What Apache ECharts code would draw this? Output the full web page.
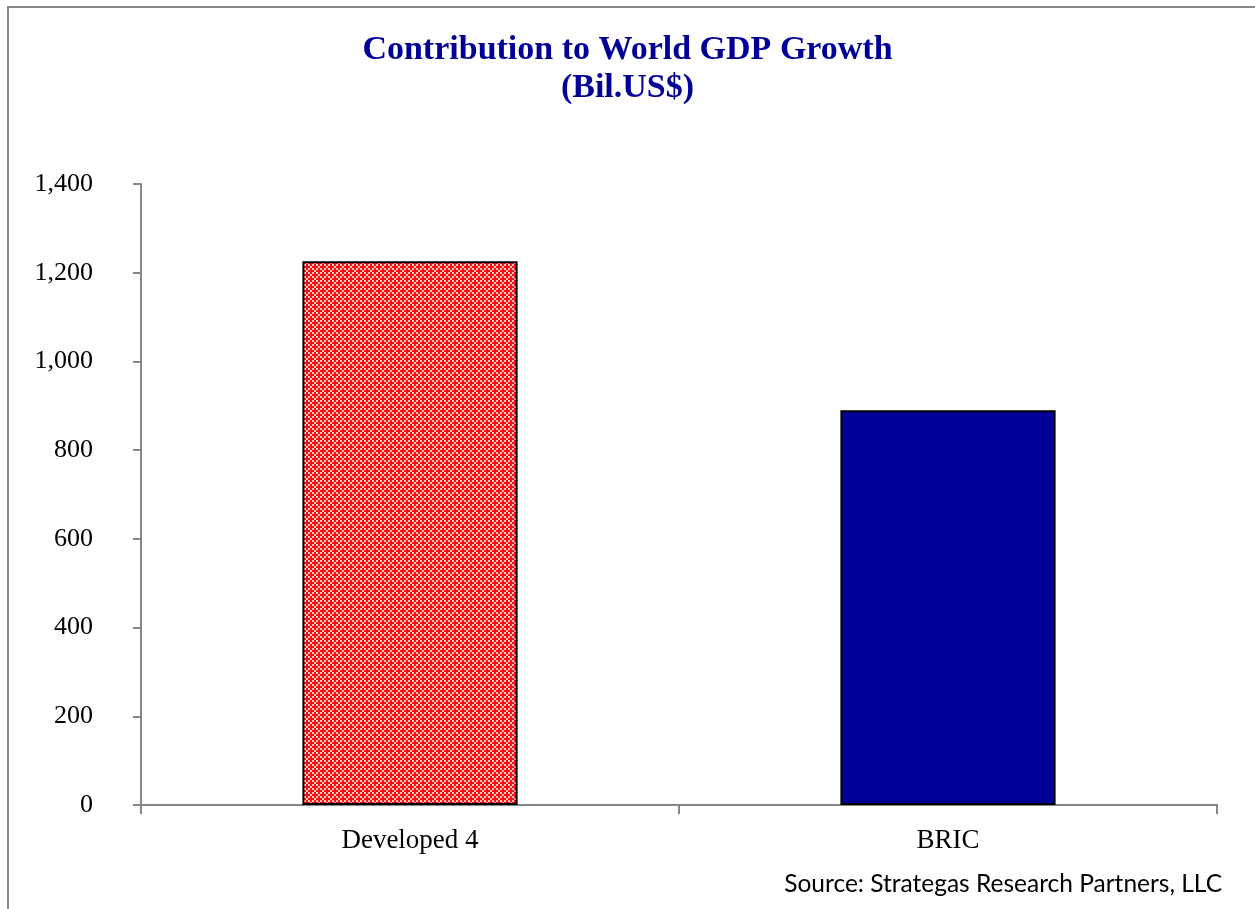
<!DOCTYPE html>
<html>
<head>
<meta charset="utf-8">
<script src="https://cdn.jsdelivr.net/npm/echarts@6/dist/echarts.min.js"></script>
<style>
  html, body { margin: 0; padding: 0; background: #fff; }
  #chart { width: 1255px; height: 909px; }
</style>
</head>
<body>
<div id="chart"></div>
<script>
const categories = ["Developed 4", "BRIC"];
const gdpValues = [1226, 890];
const yTicks = [0, 200, 400, 600, 800, 1000, 1200, 1400];

// red crosses on a pale background, like the Excel confetti fill
function makePattern() {
  const c = document.createElement("canvas");
  c.width = 8;
  c.height = 8;
  const ctx = c.getContext("2d");
  ctx.fillStyle = "#ffc4c4";
  ctx.fillRect(0, 0, 8, 8);
  ctx.fillStyle = "#ff0d0d";
  const cross = (cx, cy) => {
    ctx.fillRect(cx - 3, cy - 1, 6, 2);
    ctx.fillRect(cx - 1, cy - 3, 2, 6);
  };
  cross(3, 3);
  cross(7, 7);
  cross(-1, 7);
  cross(7, -1);
  cross(-1, -1);
  return c;
}

const chart = echarts.init(document.getElementById("chart"));

const fmt = (v) => v.toLocaleString("en-US");

const option = {
  backgroundColor: "#ffffff",
  animation: false,
  title: {
    text: "Contribution to World GDP Growth\n(Bil.US$)",
    left: "center",
    top: 26,
    textStyle: {
      fontFamily: "Liberation Serif",
      fontWeight: "bold",
      fontSize: 34,
      lineHeight: 38,
      color: "#000099",
    },
  },
  graphic: [
    {
      type: "rect",
      shape: { x: 8, y: 7, width: 1300, height: 950 },
      style: { fill: "none", stroke: "#888888", lineWidth: 2 },
      silent: true,
    },
    {
      type: "text",
      right: 33,
      top: 872,
      style: {
        text: "Source: Strategas Research Partners, LLC",
        fontFamily: "Lato",
        fontSize: 24.5,
        fill: "#000000",
      },
    },
  ],
  grid: {
    left: 141,
    right: 38,
    top: 184,
    bottom: 104,
  },
  xAxis: {
    type: "category",
    data: categories,
    axisLine: { lineStyle: { color: "#868686", width: 2 } },
    axisTick: { show: true, length: 9, lineStyle: { color: "#868686", width: 2 } },
    axisLabel: {
      margin: 22,
      fontFamily: "Liberation Serif",
      fontSize: 27,
      color: "#000000",
    },
  },
  yAxis: {
    type: "value",
    min: 0,
    max: 1400,
    interval: 200,
    splitLine: { show: false },
    axisLine: { show: true, lineStyle: { color: "#868686", width: 2 } },
    axisTick: { show: true, length: 8, lineStyle: { color: "#868686", width: 2 } },
    axisLabel: {
      margin: 48,
      fontFamily: "Liberation Serif",
      fontSize: 26,
      color: "#000000",
      formatter: (v) => (yTicks.includes(v) ? fmt(v) : ""),
    },
  },
  series: [
    {
      type: "bar",
      barWidth: "40%",
      data: [
        {
          value: gdpValues[0],
          itemStyle: {
            color: { image: makePattern(), repeat: "repeat" },
            borderColor: "#000000",
            borderWidth: 2,
          },
        },
        {
          value: gdpValues[1],
          itemStyle: {
            color: "#000099",
            borderColor: "#000000",
            borderWidth: 2,
          },
        },
      ],
    },
  ],
};

chart.setOption(option);
</script>
</body>
</html>
